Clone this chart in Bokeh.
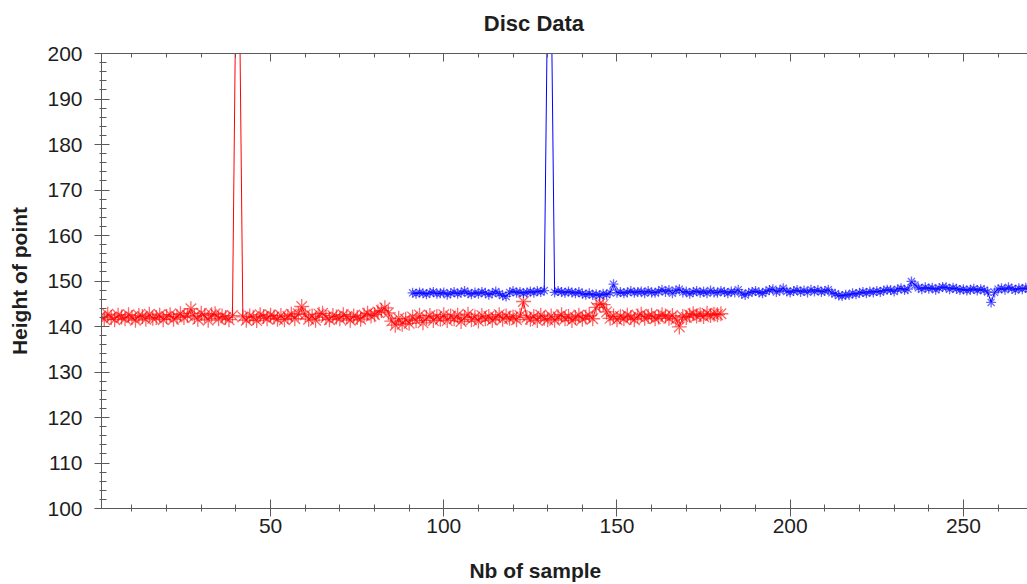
from bokeh.plotting import figure
from bokeh.models import LinearAxis, SingleIntervalTicker, Range1d
from bokeh.embed import file_html
from bokeh.resources import INLINE

# ---- data ----
red_x = list(range(1, 181))
red_y = [
    142.3, 141.6, 142.7, 142.0, 141.5, 142.5, 142.1, 141.7, 142.6, 142.0,
    141.4, 142.4, 142.2, 141.6, 142.7, 141.8, 142.0, 142.5, 141.5, 142.2,
    142.6, 141.6, 142.1, 142.8, 142.0, 142.4, 143.9, 142.2, 141.6, 142.9,
    142.4, 141.4, 142.6, 142.8, 141.7, 142.3, 142.0, 141.5, 142.4, 215.0,
    215.0, 142.1, 141.4, 142.3, 142.0, 141.3, 142.6, 142.2, 141.7, 142.5,
    142.1, 141.6, 142.4, 141.5, 142.2, 142.7, 141.7, 142.8, 144.4, 142.6,
    141.6, 142.3, 141.4, 142.7, 142.9, 142.0, 141.5, 142.4, 142.1, 141.7,
    142.6, 142.2, 141.4, 142.3, 142.0, 141.6, 142.5, 142.9, 142.3, 142.6,
    143.2, 143.5, 144.1, 143.0, 141.2, 140.3, 141.8, 140.5, 141.6, 140.7,
    142.1, 141.3, 142.5, 140.8, 141.9, 142.4, 141.3, 142.2, 141.6, 142.6,
    141.3, 142.3, 141.7, 142.5, 141.1, 142.0, 142.7, 141.5, 142.1, 141.2,
    142.4, 141.7, 142.2, 141.4, 142.0, 142.6, 141.6, 142.3, 141.8, 142.1,
    141.5, 142.4, 145.5, 142.0, 141.6, 142.2, 141.3, 142.5, 141.8, 141.5,
    142.3, 141.4, 142.1, 142.6, 141.7, 142.2, 141.3, 142.0, 142.5, 141.6,
    142.1, 142.4, 141.7, 144.2, 145.0, 144.8, 143.2, 141.8, 142.3, 141.5,
    142.2, 141.7, 142.5, 142.0, 141.5, 142.3, 142.7, 141.8, 142.2, 142.5,
    141.7, 142.1, 142.6, 142.3, 141.8, 142.4, 141.6, 139.9, 142.2, 142.0,
    142.5, 142.8, 142.3, 142.6, 142.2, 142.9, 142.4, 142.7, 142.6, 142.8,
]

blue_x = list(range(91, 271))
blue_y = [
    147.4, 147.2, 147.5, 147.3, 147.1, 147.4, 147.6, 147.2, 147.3, 147.5,
    147.0, 147.3, 147.6, 147.2, 147.4, 147.8, 147.3, 147.1, 147.5, 147.2,
    147.6, 147.4, 147.0, 147.3, 147.7, 147.2, 146.8, 146.6, 147.5, 147.8,
    147.4, 147.6, 147.3, 147.5, 147.7, 147.4, 147.8, 147.6, 147.9, 215.0,
    215.0, 147.5, 147.8, 147.6, 147.4, 147.7, 147.5, 147.3, 147.6, 147.2,
    147.0, 147.3, 146.9, 147.1, 146.8, 147.2, 147.0, 147.4, 149.3, 147.4,
    147.6, 147.3, 147.5, 147.8, 147.4, 147.6, 147.7, 147.3, 147.8, 147.5,
    147.4, 147.7, 148.1, 147.6, 148.0, 147.3, 147.9, 148.2, 147.5, 147.7,
    147.2, 147.6, 147.8, 147.4, 147.7, 147.3, 147.9, 147.5, 147.4, 147.8,
    147.6, 147.3, 147.7, 147.5, 148.1, 147.2, 146.9, 147.4, 147.6, 147.8,
    147.5, 147.3, 147.7, 148.0, 148.2, 147.6, 147.9, 148.4, 147.7, 147.5,
    147.8, 148.0, 147.6, 147.9, 147.5, 148.1, 147.7, 148.0, 147.6, 147.8,
    148.1, 147.4, 147.2, 146.8, 146.7, 147.0, 146.9, 147.3, 147.1, 147.4,
    147.6, 147.3, 147.7, 147.5, 147.8, 147.6, 147.9, 148.1, 148.0, 147.7,
    148.2, 148.4, 148.0, 148.2, 149.9, 149.1, 148.5, 148.2, 148.6, 148.3,
    148.5, 148.1, 148.4, 148.7, 148.6, 148.2, 148.5, 148.3, 148.0, 148.2,
    147.9, 148.1, 148.3, 147.9, 148.2, 148.0, 147.6, 145.3, 147.5, 148.2,
    148.4, 148.1, 148.6, 148.3, 148.0, 148.4, 148.2, 148.5, 148.3, 148.1,
]

title_text = "Disc Data"
x_label = "Nb of sample"
y_label = "Height of point"
x_tick_values = [0, 50, 100, 150, 200, 250]

FONT = "Liberation Sans"
AXIS_COLOR = "#5a5a5a"
LABEL_COLOR = "#1e1e1e"
PAD = "\u00a0" * 10   # trailing no-break spaces shift the centred labels left

p = figure(width=1027, height=584, output_backend="svg", toolbar_location=None,
           x_range=Range1d(1.2, 268.5), y_range=Range1d(100, 200),
           min_border_left=101, min_border_right=0, min_border_top=53,
           min_border_bottom=76, x_axis_location=None, y_axis_location=None)
p.xgrid.visible = False
p.ygrid.visible = False
p.outline_line_color = None
p.background_fill_color = "white"
p.border_fill_color = "white"

xt = SingleIntervalTicker(interval=50, num_minor_ticks=5)
yt = SingleIntervalTicker(interval=10, num_minor_ticks=5)

def style(ax):
    ax.axis_line_color = AXIS_COLOR
    ax.major_tick_line_color = AXIS_COLOR
    ax.minor_tick_line_color = AXIS_COLOR
    ax.major_label_text_font = FONT
    ax.major_label_text_font_size = "21px"
    ax.major_label_text_color = LABEL_COLOR
    ax.axis_label_text_font = FONT
    ax.axis_label_text_font_style = "bold"
    ax.axis_label_text_font_size = "21px"
    ax.axis_label_text_color = LABEL_COLOR

xb = LinearAxis(ticker=xt, axis_label=x_label + PAD)
style(xb)
xb.major_tick_in = 9
xb.major_tick_out = 8
xb.minor_tick_in = 4
xb.minor_tick_out = 3
xb.major_label_standoff = 2
xb.axis_label_standoff = 23
p.add_layout(xb, "below")

# top axis: ticks only, carries the chart title as its label
xtop = LinearAxis(ticker=xt, axis_label=title_text + PAD)
style(xtop)
xtop.major_label_overrides = {v: "" for v in x_tick_values}
xtop.axis_label_text_font_size = "22px"
xtop.major_tick_in = 8
xtop.major_tick_out = 0
xtop.minor_tick_in = 4
xtop.minor_tick_out = 0
xtop.major_label_standoff = 0
xtop.axis_label_standoff = 18
p.add_layout(xtop, "above")

yl = LinearAxis(ticker=yt, axis_label=y_label)
style(yl)
yl.major_tick_in = 8
yl.major_tick_out = 7
yl.minor_tick_in = 5
yl.minor_tick_out = 2
yl.major_label_standoff = 12
yl.axis_label_standoff = 13
p.add_layout(yl, "left")

p.line(red_x, red_y, line_color="#ff0000", line_width=1)
p.scatter(red_x, red_y, marker="asterisk", size=15, line_color="#ff0000",
          line_alpha=0.6, line_width=1.3)
p.line(blue_x, blue_y, line_color="#0000ff", line_width=1)
p.scatter(blue_x, blue_y, marker="asterisk", size=10, line_color="#0000ff",
          line_alpha=0.6, line_width=1.3)

open("out.html", "w").write(file_html(p, INLINE))
